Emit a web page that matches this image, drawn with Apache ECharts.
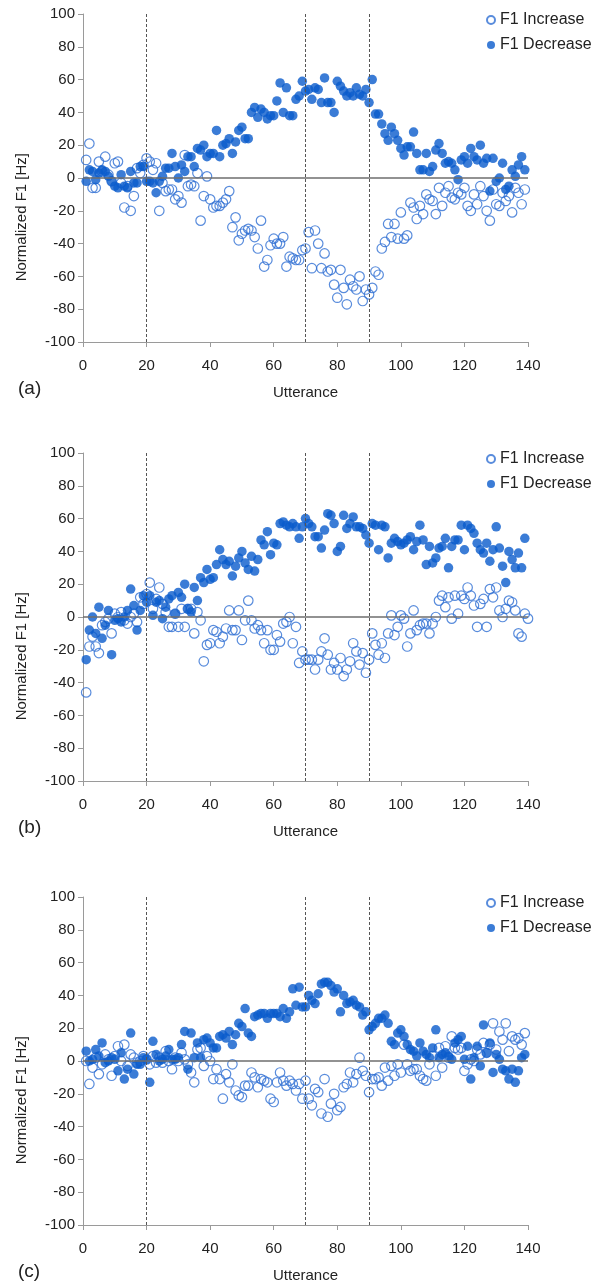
<!DOCTYPE html>
<html><head><meta charset="utf-8">
<script src="https://cdn.jsdelivr.net/npm/echarts@6/dist/echarts.min.js"></script>
<style>html,body{margin:0;padding:0;background:#fff}#c{width:603px;height:1284px}</style>
</head><body><div id="c"></div>
<script>
// ---- data (y values for utterance 1..N) ----
const aInc = [11,21,-6,-6,10,4,13,2,-2,9, 10,-3,-18,-5,-20,-11,6,3,8,12, 10,5,9,-20,-3,-8,-7,-7,-13,-11, -15,14,-5,-4,-5,3,-26,-11,1,-13, -18,-17,-17,-15,-13,-8,-30,-24,-38,-34, -32,-31,-32,-36,-43,-26,-54,-50,-41,-37, -40,-40,-36,-54,-48,-49,-50,-50,-44,-43, -33,-55,-32,-40,-55,-46,-57,-56,-65,-73, -56,-67,-77,-62,-66,-68,-60,-75,-68,-71, -67,-57,-59,-43,-39,-28,-36,-28,-37,-21, -37,-35,-15,-18,-25,-17,-22,-10,-13,-14, -22,-6,-17,-9,-5,-12,-13,-9,-10,-6, -17,-20,-10,-16,-5,-11,-20,-26,-7,-16, -17,-9,-14,-11,-21,-6,-9,-16,-7];
const aDec = [-2,5,4,-1,3,5,4,1,-2,-5, -6,2,-5,-6,4,-3,-3,7,7,-2, -2,-3,-9,-2,1,6,6,15,7,0, 8,4,13,13,7,18,17,20,13,15, 15,29,13,20,21,24,15,22,29,31, 24,24,40,43,37,42,40,36,38,38, 47,58,40,55,38,38,48,50,59,53, 54,48,55,54,46,61,46,46,40,59, 56,53,50,52,50,55,51,50,54,46, 60,39,39,33,27,23,31,27,23,18, 14,19,19,28,15,5,5,15,4,7, 17,21,15,9,10,9,5,-1,11,13, 9,18,13,11,20,9,12,-8,12,-2, 0,9,-7,-5,5,1,8,13,5];
const bInc = [-46,-18,-12,-18,-22,-5,-3,-1,-10,2, 0,3,-2,-4,0,2,-3,12,8,14, 21,5,11,18,8,3,-6,-6,2,-6, 5,-6,5,5,-10,3,-2,-27,-17,-16, -8,-9,-16,-12,-7,4,-8,-8,4,-14, -2,10,-2,-7,-5,-8,-16,-8,-20,-20, -11,-15,-4,-3,0,-16,-6,-28,-21,-26, -26,-26,-32,-26,-21,-13,-23,-32,-28,-32, -25,-36,-32,-27,-16,-21,-29,-22,-34,-26, -10,-17,-23,-16,-25,-10,1,-11,-6,1, -1,-18,-10,4,-8,-5,-4,-4,-10,-4, 0,10,13,6,12,-1,13,2,13,11, 18,13,7,-6,8,11,-6,17,12,18, 4,0,5,10,9,4,-10,-12,2,-1];
const bDec = [-26,-8,0,-10,6,-13,-5,4,-23,-2, -1,-3,0,4,17,7,-8,4,13,9, 13,1,9,10,-1,6,11,13,2,15, 12,20,5,3,18,10,24,21,29,23, 24,32,41,35,32,34,25,31,36,40, 33,29,37,28,35,47,44,52,38,45, 44,57,58,56,55,57,55,48,55,60, 57,55,49,49,42,53,63,62,57,40, 43,62,54,57,61,55,55,54,50,45, 57,56,41,56,55,36,45,48,46,44, 45,47,49,41,46,56,47,32,43,33, 36,42,43,48,30,43,47,47,56,41, 56,54,51,45,41,39,45,34,41,55, 42,31,21,40,35,30,39,30,48];
const cInc = [0,-14,-4,2,-8,-2,4,1,-9,3, 9,0,10,-3,4,2,-1,0,3,1, -2,3,-1,2,-1,6,0,-5,2,0, 5,1,-2,-7,-13,7,8,-3,3,0, -11,-5,-11,-23,-8,-13,-2,-18,-21,-22, -15,-15,-7,-10,-16,-11,-12,-13,-23,-25, -13,-7,-12,-15,-12,-14,-18,-14,-23,-12, -23,-27,-17,-19,-32,-11,-34,-26,-20,-30, -28,-16,-14,-7,-13,-8,2,-6,-9,-19, -11,-11,-10,-15,-4,-12,-3,-9,-2,-7, 10,-2,-6,-5,-5,-9,-11,-12,-2,3, -9,8,-4,9,2,15,8,7,8,-6, -2,1,0,7,4,11,5,10,23,7, 18,13,23,6,15,13,14,10,17];
const cDec = [6,0,1,7,3,11,-1,0,2,1, -6,5,-11,-5,17,-8,-2,-2,2,1, -13,12,4,0,1,3,7,1,1,2, 10,18,-5,17,2,11,2,13,14,11, 8,8,15,16,14,18,10,16,23,21, 32,17,15,27,28,29,29,26,29,29, 29,27,32,26,30,44,34,45,33,33, 40,37,35,41,47,48,48,46,42,44, 30,40,35,36,37,34,33,28,30,19, 21,23,26,26,28,23,12,10,17,19, 15,10,7,6,3,11,6,4,2,8, 19,2,4,5,3,1,11,13,15,1, 9,-11,2,9,-3,22,5,11,-7,4, 1,-5,-6,-11,-5,-13,-6,2,4];
const panelNames = ['(a)','(b)','(c)'];
const seriesNames = ['F1 Increase','F1 Decrease'];
const markerLines = [20, 70, 90];
const xRange = [0, 140, 20];
const yRange = [-100, 100, 20];

// ---- layout ----
const tops = [14, 453, 897];
const H = 328, L = 83, W = 445;
const FONT = 'Liberation Sans, Arial, sans-serif';
const incData = [aInc, bInc, cInc], decData = [aDec, bDec, cDec];
const toPts = arr => arr.map((v, i) => [i + 1, v]);

const grid = [], xAxis = [], yAxis = [], series = [], legend = [], graphic = [];
tops.forEach((t, i) => {
  grid.push({left: L, top: t, width: W, height: H});
  xAxis.push({gridIndex: i, type: 'value', min: xRange[0], max: xRange[1], interval: xRange[2],
    axisLine: {show: true, onZero: false, lineStyle: {color: '#9a9a9a', width: 1}},
    axisTick: {show: true, length: 5, lineStyle: {color: '#9a9a9a'}},
    axisLabel: {margin: 16, fontSize: 15, color: '#222', fontFamily: FONT},
    splitLine: {show: false},
    name: 'Utterance', nameLocation: 'middle', nameGap: 43,
    nameTextStyle: {fontSize: 15, color: '#222', fontFamily: FONT}});
  yAxis.push({gridIndex: i, type: 'value', min: yRange[0], max: yRange[1], interval: yRange[2],
    axisLine: {show: true, onZero: false, lineStyle: {color: '#9a9a9a', width: 1}},
    axisTick: {show: true, length: 5, lineStyle: {color: '#9a9a9a'}},
    axisLabel: {margin: 8, fontSize: 15, color: '#222', fontFamily: FONT},
    splitLine: {show: false}});
  series.push({type: 'line', xAxisIndex: i, yAxisIndex: i, data: [], z: 1, silent: true,
    markLine: {silent: true, symbol: 'none', label: {show: false}, animation: false,
      data: [{yAxis: 0, lineStyle: {color: '#6e6e6e', width: 1.5, type: 'solid'}}]
        .concat(markerLines.map(x => ({xAxis: x, lineStyle: {color: '#555', width: 1, type: [3, 2]}})))}});
  series.push({name: seriesNames[0], type: 'scatter', xAxisIndex: i, yAxisIndex: i, z: 2,
    symbol: 'circle', symbolSize: 9.5, animation: false,
    itemStyle: {color: 'rgba(255,255,255,0)', borderColor: '#2f6fd3', borderWidth: 1.2},
    data: toPts(incData[i])});
  series.push({name: seriesNames[1], type: 'scatter', xAxisIndex: i, yAxisIndex: i, z: 3,
    symbol: 'circle', symbolSize: 9.5, animation: false,
    itemStyle: {color: '#0a5bcc'},
    data: toPts(decData[i])});
  legend.push({data: seriesNames, orient: 'vertical', left: 481, top: t - 7, icon: 'circle',
    itemWidth: 8, itemHeight: 8, itemGap: 9, selectedMode: false,
    textStyle: {fontSize: 16, color: '#222', fontFamily: FONT}});
  graphic.push({type: 'text', left: 14, top: t + H / 2 + 39 - 64, rotation: Math.PI / 2,
    style: {text: 'Normalized F1 [Hz]', fontSize: 15, fill: '#222', fontFamily: FONT}});
  graphic.push({type: 'text', left: 18, top: t + 365,
    style: {text: panelNames[i], fontSize: 19, fill: '#222', fontFamily: FONT}});
});

const chart = echarts.init(document.getElementById('c'), null, {renderer: 'canvas'});
chart.setOption({animation: false, backgroundColor: '#fff', grid, xAxis, yAxis, series, legend, graphic});
</script></body></html>
